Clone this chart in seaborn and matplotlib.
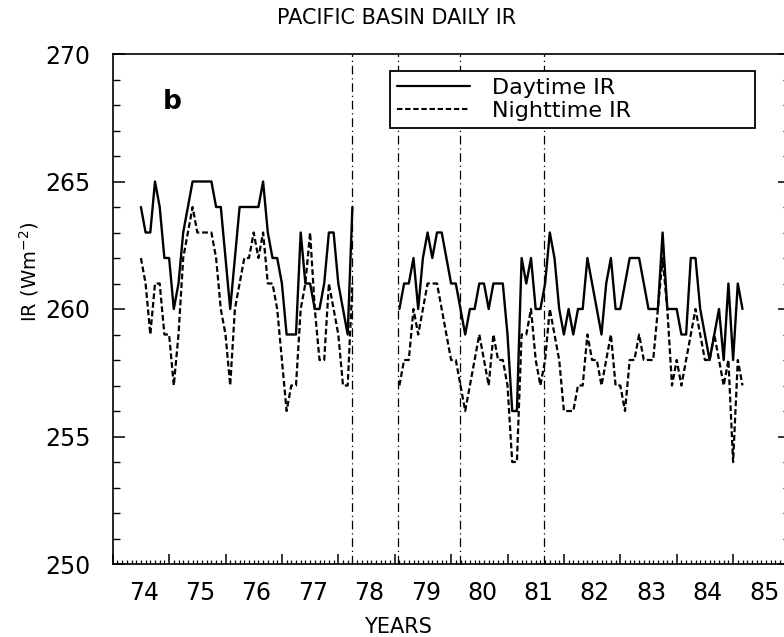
import numpy as np
import pandas as pd
import matplotlib
matplotlib.use("Agg")
import matplotlib.pyplot as plt
from matplotlib.lines import Line2D
from matplotlib.ticker import MultipleLocator
import seaborn as sns

# ---------------- data (monthly means, month index 0 = June 1974) ----------------
months_a = list(range(0, 46))      # Jun 1974 .. Mar 1978
months_b = list(range(55, 129))    # Jan 1979 .. Feb 1985

day_a = [264, 263, 263, 265, 264, 262, 262, 260, 261, 263, 264, 265, 265, 265, 265, 265,
         264, 264, 262, 260, 262, 264, 264, 264, 264, 264, 265, 263, 262, 262, 261, 259,
         259, 259, 263, 261, 261, 260, 260, 261, 263, 263, 261, 260, 259, 264]
night_a = [262, 261, 259, 261, 261, 259, 259, 257, 259, 262, 263, 264, 263, 263, 263, 263,
           262, 260, 259, 257, 260, 261, 262, 262, 263, 262, 263, 261, 261, 260, 258, 256,
           257, 257, 260, 261, 263, 260, 258, 258, 261, 260, 259, 257, 257, 261]

day_b = [260, 261, 261, 262, 260, 262, 263, 262, 263, 263, 262, 261, 261, 260, 259, 260,
         260, 261, 261, 260, 261, 261, 261, 259, 256, 256, 262, 261, 262, 260, 260, 261,
         263, 262, 260, 259, 260, 259, 260, 260, 262, 261, 260, 259, 261, 262, 260, 260,
         261, 262, 262, 262, 261, 260, 260, 260, 263, 260, 260, 260, 259, 259, 262, 262,
         260, 259, 258, 259, 260, 258, 261, 258, 261, 260]
night_b = [257, 258, 258, 260, 259, 260, 261, 261, 261, 260, 259, 258, 258, 257, 256, 257,
           258, 259, 258, 257, 259, 258, 258, 257, 254, 254, 259, 259, 260, 258, 257, 258,
           260, 259, 258, 256, 256, 256, 257, 257, 259, 258, 258, 257, 258, 259, 257, 257,
           256, 258, 258, 259, 258, 258, 258, 260, 262, 260, 257, 258, 257, 258, 259, 260,
           259, 258, 258, 259, 258, 257, 258, 254, 258, 257]

start_year = 74.5                       # first data month (June 1974)
satellite_changes = [78.24, 79.06, 80.15, 81.65]
year_ticks = list(range(74, 87))
year_labels = ["74", "75", "76", "77", "78", "79", "80", "81", "82", "83", "84", "85"]

series_names = ["Daytime IR", "Nighttime IR"]


def frame(months, values, name, seg):
    return pd.DataFrame({"t": [start_year + m / 12.0 for m in months],
                         "IR": values, "series": name, "seg": seg})


df = pd.concat([frame(months_a, day_a, series_names[0], 0),
                frame(months_b, day_b, series_names[0], 1),
                frame(months_a, night_a, series_names[1], 0),
                frame(months_b, night_b, series_names[1], 1)], ignore_index=True)

# ---------------- figure ----------------
sns.set_style("white")
plt.rcParams["font.family"] = ["DejaVu Sans"]
plt.rcParams["text.color"] = "black"
plt.rcParams["axes.labelcolor"] = "black"
plt.rcParams["xtick.color"] = "black"
plt.rcParams["ytick.color"] = "black"

W, H = 784, 637
fig = plt.figure(figsize=(W / 100, H / 100), dpi=100)
ax = fig.add_axes([112.7 / W, 1 - 564 / H, (789.5 - 112.7) / W, (564 - 54) / H])

dash_night = (2.6, 1.3)
sns.lineplot(data=df[df.series == series_names[0]], x="t", y="IR", units="seg",
             estimator=None, color="black", lw=1.7, ax=ax, legend=False)
sns.lineplot(data=df[df.series == series_names[1]], x="t", y="IR", units="seg",
             estimator=None, color="black", lw=1.6, ax=ax, legend=False)
for ln in ax.lines[2:]:
    ln.set_dashes(dash_night)

for xv in satellite_changes:
    ax.axvline(xv, color="black", lw=0.9, linestyle=(0, (7, 3, 1, 3)))

ax.set_xlim(74, 86)
ax.set_ylim(250, 270)
ax.set_xlabel("")
ax.set_ylabel("")

for sp in ax.spines.values():
    sp.set_visible(True)
    sp.set_linewidth(1.2)
    sp.set_color("black")

# x ticks: years (major, no labels) and months (minor)
ax.set_xticks(year_ticks)
ax.set_xticklabels([])
ax.xaxis.set_minor_locator(MultipleLocator(1 / 12))
ax.tick_params(axis="x", which="major", direction="in", length=7, width=1.1,
               bottom=True, top=False)
ax.tick_params(axis="x", which="minor", direction="in", length=3, width=0.9,
               bottom=True, top=False)

# y ticks
ax.set_yticks([250, 255, 260, 265, 270])
ax.yaxis.set_minor_locator(MultipleLocator(1))
ax.tick_params(axis="y", which="major", direction="in", length=8.5, width=1.1,
               left=True, right=True, labelsize=17, pad=16)
ax.tick_params(axis="y", which="minor", direction="in", length=5, width=1.0,
               left=True, right=True)

# year labels on a secondary bottom axis
sec = ax.secondary_xaxis("bottom")
sec.set_xticks([y + 0.55 for y in range(74, 86)], year_labels)
sec.tick_params(axis="x", length=0, labelsize=17, pad=12, colors="black")
sec.spines["bottom"].set_visible(False)

# legend
handles = [Line2D([], [], color="black", lw=1.6),
           Line2D([], [], color="black", lw=1.5, dashes=dash_night)]
leg = ax.legend(handles, series_names, loc="upper left",
                bbox_to_anchor=(390 / W, 1 - 128 / H, (755 - 390) / W, (128 - 71) / H),
                bbox_transform=fig.transFigure, mode="expand", borderaxespad=0,
                frameon=True, fancybox=False, framealpha=1, edgecolor="black",
                fontsize=16, handlelength=3.3, handletextpad=1.0, borderpad=0.3,
                labelspacing=0.15)
leg.get_frame().set_linewidth(1.3)

# texts
fig.text(397 / W, 1 - 18 / H, "PACIFIC BASIN DAILY IR", ha="center", va="center",
         fontsize=15)
fig.text(398 / W, 1 - 627 / H, "YEARS", ha="center", va="center", fontsize=15)
fig.text(29 / W, 1 - 272 / H, r"IR (Wm$^{-2}$)", ha="center", va="center",
         rotation=90, fontsize=14)
fig.text(172 / W, 1 - 102 / H, "b", ha="center", va="center", fontsize=19,
         fontweight="bold")

fig.savefig("out.png", dpi=100)
